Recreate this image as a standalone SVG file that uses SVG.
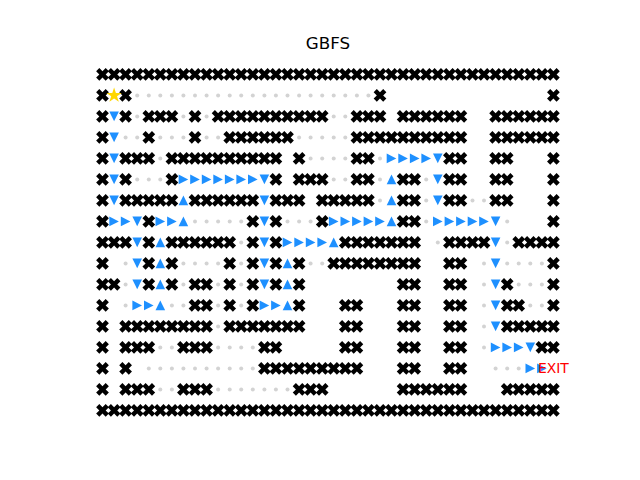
<svg xmlns="http://www.w3.org/2000/svg" xmlns:xlink="http://www.w3.org/1999/xlink" width="640" height="480" viewBox="0 0 640 480">
<defs>
<style>
.t{font-family:"DejaVu Sans","Liberation Sans",sans-serif}
</style>
<path id="w" d="M-2.25,-6.75H2.25V-2.25H6.75V2.25H2.25V6.75H-2.25V2.25H-6.75V-2.25H-2.25Z" transform="rotate(45)"/>
<circle id="d" r="2"/>
<path id="r" d="M4.8,0L-4.8,-4.8L-4.8,4.8Z"/>
<path id="v" d="M0,4.8L4.8,-4.8L-4.8,-4.8Z"/>
<path id="u" d="M0,-4.8L4.8,4.8L-4.8,4.8Z"/>
</defs>
<rect width="640" height="480" fill="#fff"/>
<text class="t" x="328" y="49" font-size="16.7" text-anchor="middle">GBFS</text>
<g id="walls" fill="#000">
<g transform="translate(0,74.4)"><use href="#w" x="102.5"/><use href="#w" x="114.1"/><use href="#w" x="125.6"/><use href="#w" x="137.2"/><use href="#w" x="148.8"/><use href="#w" x="160.3"/><use href="#w" x="171.9"/><use href="#w" x="183.4"/><use href="#w" x="195"/><use href="#w" x="206.6"/><use href="#w" x="218.1"/><use href="#w" x="229.7"/><use href="#w" x="241.2"/><use href="#w" x="252.8"/><use href="#w" x="264.4"/><use href="#w" x="275.9"/><use href="#w" x="287.5"/><use href="#w" x="299.1"/><use href="#w" x="310.6"/><use href="#w" x="322.2"/><use href="#w" x="333.7"/><use href="#w" x="345.3"/><use href="#w" x="356.9"/><use href="#w" x="368.4"/><use href="#w" x="380"/><use href="#w" x="391.5"/><use href="#w" x="403.1"/><use href="#w" x="414.7"/><use href="#w" x="426.2"/><use href="#w" x="437.8"/><use href="#w" x="449.4"/><use href="#w" x="460.9"/><use href="#w" x="472.5"/><use href="#w" x="484"/><use href="#w" x="495.6"/><use href="#w" x="507.2"/><use href="#w" x="518.7"/><use href="#w" x="530.3"/><use href="#w" x="541.9"/><use href="#w" x="553.4"/></g>
<g transform="translate(0,95.4)"><use href="#w" x="102.5"/><use href="#w" x="125.6"/><use href="#w" x="380"/><use href="#w" x="553.4"/></g>
<g transform="translate(0,116.4)"><use href="#w" x="102.5"/><use href="#w" x="125.6"/><use href="#w" x="148.8"/><use href="#w" x="160.3"/><use href="#w" x="171.9"/><use href="#w" x="195"/><use href="#w" x="218.1"/><use href="#w" x="229.7"/><use href="#w" x="241.2"/><use href="#w" x="252.8"/><use href="#w" x="264.4"/><use href="#w" x="275.9"/><use href="#w" x="287.5"/><use href="#w" x="299.1"/><use href="#w" x="310.6"/><use href="#w" x="322.2"/><use href="#w" x="356.9"/><use href="#w" x="368.4"/><use href="#w" x="380"/><use href="#w" x="403.1"/><use href="#w" x="414.7"/><use href="#w" x="426.2"/><use href="#w" x="437.8"/><use href="#w" x="449.4"/><use href="#w" x="460.9"/><use href="#w" x="495.6"/><use href="#w" x="507.2"/><use href="#w" x="518.7"/><use href="#w" x="530.3"/><use href="#w" x="541.9"/><use href="#w" x="553.4"/></g>
<g transform="translate(0,137.4)"><use href="#w" x="102.5"/><use href="#w" x="148.8"/><use href="#w" x="195"/><use href="#w" x="229.7"/><use href="#w" x="241.2"/><use href="#w" x="252.8"/><use href="#w" x="264.4"/><use href="#w" x="275.9"/><use href="#w" x="287.5"/><use href="#w" x="356.9"/><use href="#w" x="368.4"/><use href="#w" x="380"/><use href="#w" x="391.5"/><use href="#w" x="403.1"/><use href="#w" x="414.7"/><use href="#w" x="426.2"/><use href="#w" x="437.8"/><use href="#w" x="449.4"/><use href="#w" x="460.9"/><use href="#w" x="495.6"/><use href="#w" x="507.2"/><use href="#w" x="518.7"/><use href="#w" x="530.3"/><use href="#w" x="541.9"/><use href="#w" x="553.4"/></g>
<g transform="translate(0,158.4)"><use href="#w" x="102.5"/><use href="#w" x="125.6"/><use href="#w" x="137.2"/><use href="#w" x="148.8"/><use href="#w" x="171.9"/><use href="#w" x="183.4"/><use href="#w" x="195"/><use href="#w" x="206.6"/><use href="#w" x="218.1"/><use href="#w" x="229.7"/><use href="#w" x="241.2"/><use href="#w" x="252.8"/><use href="#w" x="264.4"/><use href="#w" x="275.9"/><use href="#w" x="299.1"/><use href="#w" x="356.9"/><use href="#w" x="368.4"/><use href="#w" x="449.4"/><use href="#w" x="460.9"/><use href="#w" x="495.6"/><use href="#w" x="507.2"/><use href="#w" x="553.4"/></g>
<g transform="translate(0,179.4)"><use href="#w" x="102.5"/><use href="#w" x="125.6"/><use href="#w" x="171.9"/><use href="#w" x="275.9"/><use href="#w" x="299.1"/><use href="#w" x="310.6"/><use href="#w" x="322.2"/><use href="#w" x="356.9"/><use href="#w" x="368.4"/><use href="#w" x="403.1"/><use href="#w" x="414.7"/><use href="#w" x="449.4"/><use href="#w" x="460.9"/><use href="#w" x="495.6"/><use href="#w" x="507.2"/><use href="#w" x="553.4"/></g>
<g transform="translate(0,200.4)"><use href="#w" x="102.5"/><use href="#w" x="125.6"/><use href="#w" x="137.2"/><use href="#w" x="148.8"/><use href="#w" x="160.3"/><use href="#w" x="171.9"/><use href="#w" x="195"/><use href="#w" x="206.6"/><use href="#w" x="218.1"/><use href="#w" x="229.7"/><use href="#w" x="241.2"/><use href="#w" x="252.8"/><use href="#w" x="275.9"/><use href="#w" x="287.5"/><use href="#w" x="299.1"/><use href="#w" x="322.2"/><use href="#w" x="333.7"/><use href="#w" x="345.3"/><use href="#w" x="356.9"/><use href="#w" x="368.4"/><use href="#w" x="403.1"/><use href="#w" x="414.7"/><use href="#w" x="449.4"/><use href="#w" x="460.9"/><use href="#w" x="495.6"/><use href="#w" x="507.2"/><use href="#w" x="553.4"/></g>
<g transform="translate(0,221.4)"><use href="#w" x="102.5"/><use href="#w" x="148.8"/><use href="#w" x="252.8"/><use href="#w" x="275.9"/><use href="#w" x="322.2"/><use href="#w" x="403.1"/><use href="#w" x="414.7"/><use href="#w" x="553.4"/></g>
<g transform="translate(0,242.4)"><use href="#w" x="102.5"/><use href="#w" x="114.1"/><use href="#w" x="125.6"/><use href="#w" x="148.8"/><use href="#w" x="171.9"/><use href="#w" x="183.4"/><use href="#w" x="195"/><use href="#w" x="206.6"/><use href="#w" x="218.1"/><use href="#w" x="229.7"/><use href="#w" x="252.8"/><use href="#w" x="275.9"/><use href="#w" x="345.3"/><use href="#w" x="356.9"/><use href="#w" x="368.4"/><use href="#w" x="380"/><use href="#w" x="391.5"/><use href="#w" x="403.1"/><use href="#w" x="414.7"/><use href="#w" x="449.4"/><use href="#w" x="460.9"/><use href="#w" x="472.5"/><use href="#w" x="484"/><use href="#w" x="518.7"/><use href="#w" x="530.3"/><use href="#w" x="541.9"/><use href="#w" x="553.4"/></g>
<g transform="translate(0,263.4)"><use href="#w" x="102.5"/><use href="#w" x="148.8"/><use href="#w" x="171.9"/><use href="#w" x="229.7"/><use href="#w" x="252.8"/><use href="#w" x="275.9"/><use href="#w" x="299.1"/><use href="#w" x="333.7"/><use href="#w" x="345.3"/><use href="#w" x="356.9"/><use href="#w" x="368.4"/><use href="#w" x="380"/><use href="#w" x="391.5"/><use href="#w" x="403.1"/><use href="#w" x="414.7"/><use href="#w" x="449.4"/><use href="#w" x="460.9"/><use href="#w" x="553.4"/></g>
<g transform="translate(0,284.4)"><use href="#w" x="102.5"/><use href="#w" x="114.1"/><use href="#w" x="148.8"/><use href="#w" x="171.9"/><use href="#w" x="195"/><use href="#w" x="206.6"/><use href="#w" x="229.7"/><use href="#w" x="252.8"/><use href="#w" x="275.9"/><use href="#w" x="299.1"/><use href="#w" x="403.1"/><use href="#w" x="414.7"/><use href="#w" x="449.4"/><use href="#w" x="460.9"/><use href="#w" x="507.2"/><use href="#w" x="553.4"/></g>
<g transform="translate(0,305.4)"><use href="#w" x="102.5"/><use href="#w" x="195"/><use href="#w" x="206.6"/><use href="#w" x="229.7"/><use href="#w" x="252.8"/><use href="#w" x="299.1"/><use href="#w" x="345.3"/><use href="#w" x="356.9"/><use href="#w" x="403.1"/><use href="#w" x="414.7"/><use href="#w" x="449.4"/><use href="#w" x="460.9"/><use href="#w" x="507.2"/><use href="#w" x="518.7"/><use href="#w" x="553.4"/></g>
<g transform="translate(0,326.4)"><use href="#w" x="102.5"/><use href="#w" x="125.6"/><use href="#w" x="137.2"/><use href="#w" x="148.8"/><use href="#w" x="160.3"/><use href="#w" x="171.9"/><use href="#w" x="183.4"/><use href="#w" x="195"/><use href="#w" x="206.6"/><use href="#w" x="229.7"/><use href="#w" x="241.2"/><use href="#w" x="252.8"/><use href="#w" x="264.4"/><use href="#w" x="275.9"/><use href="#w" x="287.5"/><use href="#w" x="299.1"/><use href="#w" x="345.3"/><use href="#w" x="356.9"/><use href="#w" x="403.1"/><use href="#w" x="414.7"/><use href="#w" x="449.4"/><use href="#w" x="460.9"/><use href="#w" x="507.2"/><use href="#w" x="518.7"/><use href="#w" x="530.3"/><use href="#w" x="541.9"/><use href="#w" x="553.4"/></g>
<g transform="translate(0,347.4)"><use href="#w" x="102.5"/><use href="#w" x="125.6"/><use href="#w" x="137.2"/><use href="#w" x="148.8"/><use href="#w" x="183.4"/><use href="#w" x="195"/><use href="#w" x="206.6"/><use href="#w" x="264.4"/><use href="#w" x="275.9"/><use href="#w" x="345.3"/><use href="#w" x="356.9"/><use href="#w" x="403.1"/><use href="#w" x="414.7"/><use href="#w" x="449.4"/><use href="#w" x="460.9"/><use href="#w" x="541.9"/><use href="#w" x="553.4"/></g>
<g transform="translate(0,368.4)"><use href="#w" x="102.5"/><use href="#w" x="125.6"/><use href="#w" x="264.4"/><use href="#w" x="275.9"/><use href="#w" x="287.5"/><use href="#w" x="299.1"/><use href="#w" x="310.6"/><use href="#w" x="322.2"/><use href="#w" x="333.7"/><use href="#w" x="345.3"/><use href="#w" x="356.9"/><use href="#w" x="403.1"/><use href="#w" x="414.7"/><use href="#w" x="449.4"/><use href="#w" x="460.9"/></g>
<g transform="translate(0,389.4)"><use href="#w" x="102.5"/><use href="#w" x="125.6"/><use href="#w" x="137.2"/><use href="#w" x="148.8"/><use href="#w" x="183.4"/><use href="#w" x="195"/><use href="#w" x="206.6"/><use href="#w" x="299.1"/><use href="#w" x="310.6"/><use href="#w" x="322.2"/><use href="#w" x="403.1"/><use href="#w" x="414.7"/><use href="#w" x="426.2"/><use href="#w" x="437.8"/><use href="#w" x="449.4"/><use href="#w" x="460.9"/><use href="#w" x="507.2"/><use href="#w" x="518.7"/><use href="#w" x="530.3"/><use href="#w" x="541.9"/><use href="#w" x="553.4"/></g>
<g transform="translate(0,410.4)"><use href="#w" x="102.5"/><use href="#w" x="114.1"/><use href="#w" x="125.6"/><use href="#w" x="137.2"/><use href="#w" x="148.8"/><use href="#w" x="160.3"/><use href="#w" x="171.9"/><use href="#w" x="183.4"/><use href="#w" x="195"/><use href="#w" x="206.6"/><use href="#w" x="218.1"/><use href="#w" x="229.7"/><use href="#w" x="241.2"/><use href="#w" x="252.8"/><use href="#w" x="264.4"/><use href="#w" x="275.9"/><use href="#w" x="287.5"/><use href="#w" x="299.1"/><use href="#w" x="310.6"/><use href="#w" x="322.2"/><use href="#w" x="333.7"/><use href="#w" x="345.3"/><use href="#w" x="356.9"/><use href="#w" x="368.4"/><use href="#w" x="380"/><use href="#w" x="391.5"/><use href="#w" x="403.1"/><use href="#w" x="414.7"/><use href="#w" x="426.2"/><use href="#w" x="437.8"/><use href="#w" x="449.4"/><use href="#w" x="460.9"/><use href="#w" x="472.5"/><use href="#w" x="484"/><use href="#w" x="495.6"/><use href="#w" x="507.2"/><use href="#w" x="518.7"/><use href="#w" x="530.3"/><use href="#w" x="541.9"/><use href="#w" x="553.4"/></g>
</g>
<g id="visited" fill="#d3d3d3">
<g transform="translate(0,95.4)"><use href="#d" x="137.2"/><use href="#d" x="148.8"/><use href="#d" x="160.3"/><use href="#d" x="171.9"/><use href="#d" x="183.4"/><use href="#d" x="195"/><use href="#d" x="206.6"/><use href="#d" x="218.1"/><use href="#d" x="229.7"/><use href="#d" x="241.2"/><use href="#d" x="252.8"/><use href="#d" x="264.4"/><use href="#d" x="275.9"/><use href="#d" x="287.5"/><use href="#d" x="299.1"/><use href="#d" x="310.6"/><use href="#d" x="322.2"/><use href="#d" x="333.7"/><use href="#d" x="345.3"/><use href="#d" x="356.9"/><use href="#d" x="368.4"/></g>
<g transform="translate(0,116.4)"><use href="#d" x="137.2"/><use href="#d" x="183.4"/><use href="#d" x="206.6"/><use href="#d" x="333.7"/><use href="#d" x="345.3"/></g>
<g transform="translate(0,137.4)"><use href="#d" x="125.6"/><use href="#d" x="137.2"/><use href="#d" x="160.3"/><use href="#d" x="171.9"/><use href="#d" x="183.4"/><use href="#d" x="206.6"/><use href="#d" x="218.1"/><use href="#d" x="299.1"/><use href="#d" x="310.6"/><use href="#d" x="322.2"/><use href="#d" x="333.7"/><use href="#d" x="345.3"/></g>
<g transform="translate(0,158.4)"><use href="#d" x="160.3"/><use href="#d" x="310.6"/><use href="#d" x="322.2"/><use href="#d" x="333.7"/><use href="#d" x="345.3"/><use href="#d" x="380"/></g>
<g transform="translate(0,179.4)"><use href="#d" x="137.2"/><use href="#d" x="148.8"/><use href="#d" x="160.3"/><use href="#d" x="333.7"/><use href="#d" x="345.3"/><use href="#d" x="380"/><use href="#d" x="426.2"/></g>
<g transform="translate(0,200.4)"><use href="#d" x="380"/><use href="#d" x="426.2"/><use href="#d" x="472.5"/><use href="#d" x="484"/></g>
<g transform="translate(0,221.4)"><use href="#d" x="195"/><use href="#d" x="206.6"/><use href="#d" x="218.1"/><use href="#d" x="229.7"/><use href="#d" x="241.2"/><use href="#d" x="287.5"/><use href="#d" x="299.1"/><use href="#d" x="310.6"/><use href="#d" x="426.2"/><use href="#d" x="507.2"/></g>
<g transform="translate(0,242.4)"><use href="#d" x="241.2"/><use href="#d" x="437.8"/><use href="#d" x="507.2"/></g>
<g transform="translate(0,263.4)"><use href="#d" x="125.6"/><use href="#d" x="183.4"/><use href="#d" x="195"/><use href="#d" x="206.6"/><use href="#d" x="218.1"/><use href="#d" x="241.2"/><use href="#d" x="310.6"/><use href="#d" x="322.2"/><use href="#d" x="484"/><use href="#d" x="507.2"/><use href="#d" x="518.7"/><use href="#d" x="530.3"/><use href="#d" x="541.9"/></g>
<g transform="translate(0,284.4)"><use href="#d" x="125.6"/><use href="#d" x="183.4"/><use href="#d" x="218.1"/><use href="#d" x="241.2"/><use href="#d" x="484"/><use href="#d" x="518.7"/><use href="#d" x="530.3"/><use href="#d" x="541.9"/></g>
<g transform="translate(0,305.4)"><use href="#d" x="125.6"/><use href="#d" x="171.9"/><use href="#d" x="183.4"/><use href="#d" x="218.1"/><use href="#d" x="241.2"/><use href="#d" x="484"/><use href="#d" x="530.3"/><use href="#d" x="541.9"/></g>
<g transform="translate(0,326.4)"><use href="#d" x="218.1"/><use href="#d" x="484"/></g>
<g transform="translate(0,347.4)"><use href="#d" x="160.3"/><use href="#d" x="171.9"/><use href="#d" x="218.1"/><use href="#d" x="229.7"/><use href="#d" x="241.2"/><use href="#d" x="252.8"/><use href="#d" x="484"/></g>
<g transform="translate(0,368.4)"><use href="#d" x="148.8"/><use href="#d" x="160.3"/><use href="#d" x="171.9"/><use href="#d" x="183.4"/><use href="#d" x="195"/><use href="#d" x="206.6"/><use href="#d" x="218.1"/><use href="#d" x="229.7"/><use href="#d" x="241.2"/><use href="#d" x="252.8"/><use href="#d" x="495.6"/><use href="#d" x="507.2"/><use href="#d" x="518.7"/></g>
<g transform="translate(0,389.4)"><use href="#d" x="160.3"/><use href="#d" x="171.9"/><use href="#d" x="218.1"/><use href="#d" x="229.7"/><use href="#d" x="241.2"/><use href="#d" x="252.8"/><use href="#d" x="264.4"/><use href="#d" x="275.9"/><use href="#d" x="287.5"/></g>
</g>
<g id="path" fill="#1e90ff">
<g transform="translate(0,116.4)"><use href="#v" x="114.1"/></g>
<g transform="translate(0,137.4)"><use href="#v" x="114.1"/></g>
<g transform="translate(0,158.4)"><use href="#v" x="114.1"/><use href="#r" x="391.5"/><use href="#r" x="403.1"/><use href="#r" x="414.7"/><use href="#r" x="426.2"/><use href="#v" x="437.8"/></g>
<g transform="translate(0,179.4)"><use href="#v" x="114.1"/><use href="#r" x="183.4"/><use href="#r" x="195"/><use href="#r" x="206.6"/><use href="#r" x="218.1"/><use href="#r" x="229.7"/><use href="#r" x="241.2"/><use href="#r" x="252.8"/><use href="#v" x="264.4"/><use href="#u" x="391.5"/><use href="#v" x="437.8"/></g>
<g transform="translate(0,200.4)"><use href="#v" x="114.1"/><use href="#u" x="183.4"/><use href="#v" x="264.4"/><use href="#u" x="391.5"/><use href="#v" x="437.8"/></g>
<g transform="translate(0,221.4)"><use href="#r" x="114.1"/><use href="#r" x="125.6"/><use href="#v" x="137.2"/><use href="#r" x="160.3"/><use href="#r" x="171.9"/><use href="#u" x="183.4"/><use href="#v" x="264.4"/><use href="#r" x="333.7"/><use href="#r" x="345.3"/><use href="#r" x="356.9"/><use href="#r" x="368.4"/><use href="#r" x="380"/><use href="#u" x="391.5"/><use href="#r" x="437.8"/><use href="#r" x="449.4"/><use href="#r" x="460.9"/><use href="#r" x="472.5"/><use href="#r" x="484"/><use href="#v" x="495.6"/></g>
<g transform="translate(0,242.4)"><use href="#v" x="137.2"/><use href="#u" x="160.3"/><use href="#v" x="264.4"/><use href="#r" x="287.5"/><use href="#r" x="299.1"/><use href="#r" x="310.6"/><use href="#r" x="322.2"/><use href="#u" x="333.7"/><use href="#v" x="495.6"/></g>
<g transform="translate(0,263.4)"><use href="#v" x="137.2"/><use href="#u" x="160.3"/><use href="#v" x="264.4"/><use href="#u" x="287.5"/><use href="#v" x="495.6"/></g>
<g transform="translate(0,284.4)"><use href="#v" x="137.2"/><use href="#u" x="160.3"/><use href="#v" x="264.4"/><use href="#u" x="287.5"/><use href="#v" x="495.6"/></g>
<g transform="translate(0,305.4)"><use href="#r" x="137.2"/><use href="#r" x="148.8"/><use href="#u" x="160.3"/><use href="#r" x="264.4"/><use href="#r" x="275.9"/><use href="#u" x="287.5"/><use href="#v" x="495.6"/></g>
<g transform="translate(0,326.4)"><use href="#v" x="495.6"/></g>
<g transform="translate(0,347.4)"><use href="#r" x="495.6"/><use href="#r" x="507.2"/><use href="#r" x="518.7"/><use href="#v" x="530.3"/></g>
<g transform="translate(0,368.4)"><use href="#r" x="530.3"/><use href="#r" x="541.9"/></g>
</g>
<g id="start"><path transform="translate(114.1,95.4)" fill="#ffd700" d="M0,-8L1.8,-2.47L7.61,-2.47L2.91,0.94L4.7,6.47L0,3.06L-4.7,6.47L-2.91,0.94L-7.61,-2.47L-1.8,-2.47Z"/></g>
<g id="exit"><text class="t" x="553.4" y="373.2" font-size="13.9" fill="#ff0000" text-anchor="middle">EXIT</text></g>
</svg>
